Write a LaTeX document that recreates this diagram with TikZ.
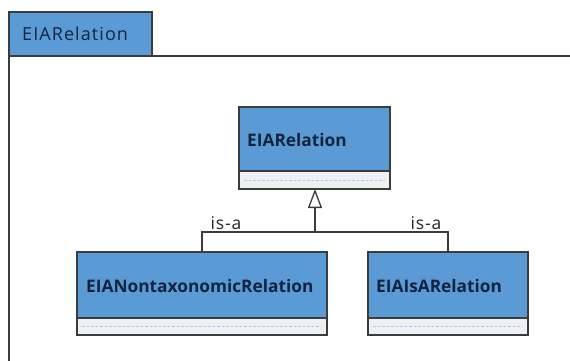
\documentclass[tikz,border=0pt]{standalone}
\usepackage{fontspec}
\setmainfont{Open Sans}
\newfontfamily\tabfont[LetterSpace=6]{Open Sans}
\newfontfamily\isafont[LetterSpace=5]{Open Sans}
\usetikzlibrary{arrows.meta}
\definecolor{classblue}{HTML}{5B9BD5}
\definecolor{compgray}{HTML}{EEF0F3}
\definecolor{edgegray}{HTML}{3C3C3C}
\definecolor{dotblue}{HTML}{B3C6E2}
\definecolor{textnavy}{HTML}{13233F}
\tikzset{
  classhead/.style={draw=edgegray, line width=1.2pt, fill=classblue},
  classcomp/.style={draw=edgegray, line width=1.2pt, fill=compgray},
  compdots/.style={draw=dotblue, dash pattern=on 2.5pt off 2pt, line width=1.6pt},
  classname/.style={anchor=base west, font=\fontsize{17.3}{20}\selectfont\bfseries, text=textnavy, inner sep=0pt},
  isalabel/.style={anchor=base, font=\isafont\fontsize{17.5}{20}\selectfont, text=black!85, inner sep=0pt},
  gen/.style={draw=edgegray, line width=1.3pt},
}
\begin{document}
\begin{tikzpicture}[x=1pt,y=-1pt]
\useasboundingbox (0,0) rectangle (570,361);
% package frame with its tab
\fill[classblue] (9,12) rectangle (152,56);
\draw[edgegray, line width=1.2pt] (9,361) -- (9,12) -- (152,12) -- (152,56);
\draw[edgegray, line width=1.2pt] (9,56) -- (570,56);
\node[anchor=base west, inner sep=0pt, font=\tabfont\fontsize{18}{21}\selectfont, text=textnavy] (pkg) at (22,41) {EIARelation};

% class EIARelation
\draw[classhead] (239,107) rectangle (390,171);
\draw[classcomp] (239,171) rectangle (390,189);
\draw[compdots] (244,180.5) -- (385,180.5);
\node[classname] (rel) at (247,146) {EIARelation};
\coordinate (relb) at (315,189);

% class EIANontaxonomicRelation
\draw[classhead] (77,252) rectangle (327,318);
\draw[classcomp] (77,318) rectangle (327,335);
\draw[compdots] (82,326.5) -- (322,326.5);
\node[classname] (nontax) at (86,292.5) {EIANontaxonomicRelation};
\coordinate (nontaxt) at (202,252);

% class EIAIsARelation
\draw[classhead] (368,252) rectangle (528,318);
\draw[classcomp] (368,318) rectangle (528,335);
\draw[compdots] (373,326.5) -- (523,326.5);
\node[classname] (isa) at (376,292.5) {EIAIsARelation};
\coordinate (isat) at (448,252);

% generalisation tree
\coordinate (join) at (315,232);
\coordinate (lj) at (202,232);
\coordinate (rj) at (448,232);
\draw[gen] (nontaxt) -- (lj) -- (rj) -- (isat);
\draw[gen, -{Triangle[open, width=14pt, length=19pt, line width=1.3pt]}] (join) -- (relb);

\node[isalabel] (l1) at (226,229) {is-a};
\node[isalabel] (l2) at (426,229) {is-a};
\end{tikzpicture}
\end{document}
